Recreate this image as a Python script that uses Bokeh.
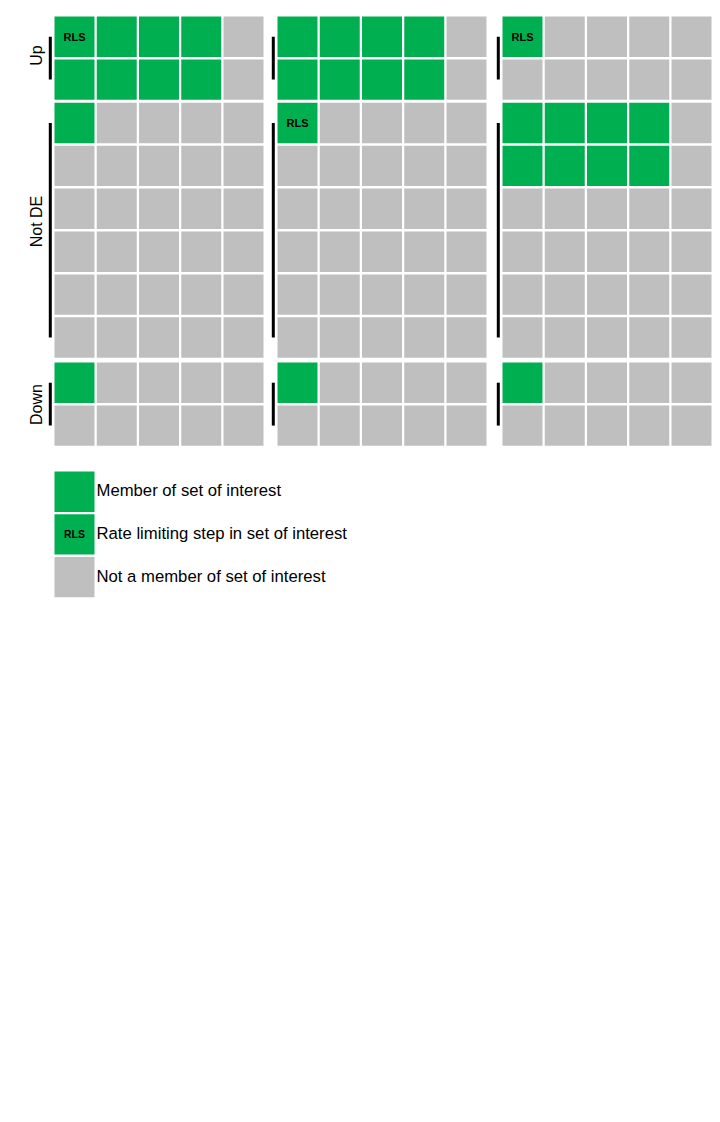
import math
from bokeh.plotting import figure
from bokeh.models import Range1d
from bokeh.core.properties import value
from bokeh.embed import file_html
from bokeh.resources import INLINE

# ---------------- data ----------------
groups = ["Up", "Not DE", "Down"]
group_rows = [2, 6, 2]
n_cols = 5
# cell states: 0 = not a member, 1 = member, 2 = rate limiting step (member)
panel_1 = [
    [2, 1, 1, 1, 0],
    [1, 1, 1, 1, 0],
    [1, 0, 0, 0, 0],
    [0, 0, 0, 0, 0],
    [0, 0, 0, 0, 0],
    [0, 0, 0, 0, 0],
    [0, 0, 0, 0, 0],
    [0, 0, 0, 0, 0],
    [1, 0, 0, 0, 0],
    [0, 0, 0, 0, 0],
]
panel_2 = [
    [1, 1, 1, 1, 0],
    [1, 1, 1, 1, 0],
    [2, 0, 0, 0, 0],
    [0, 0, 0, 0, 0],
    [0, 0, 0, 0, 0],
    [0, 0, 0, 0, 0],
    [0, 0, 0, 0, 0],
    [0, 0, 0, 0, 0],
    [1, 0, 0, 0, 0],
    [0, 0, 0, 0, 0],
]
panel_3 = [
    [2, 0, 0, 0, 0],
    [0, 0, 0, 0, 0],
    [1, 1, 1, 1, 0],
    [1, 1, 1, 1, 0],
    [0, 0, 0, 0, 0],
    [0, 0, 0, 0, 0],
    [0, 0, 0, 0, 0],
    [0, 0, 0, 0, 0],
    [1, 0, 0, 0, 0],
    [0, 0, 0, 0, 0],
]
panels = [panel_1, panel_2, panel_3]
legend_states = [1, 2, 0]
legend_labels = ["Member of set of interest",
                 "Rate limiting step in set of interest",
                 "Not a member of set of interest"]
rls_label = "RLS"

# ---------------- style / layout ----------------
GREEN = "#00B050"
GRAY = "#BFBFBF"
state_color = {0: GRAY, 1: GREEN, 2: GREEN}
W, H = 720, 1122
panel_x0 = [54, 277, 502]
col_pitch = 42.25
cell_w = 40
group_y0 = [16, 102.3, 362]
row_pitch = 42.9
cell_h = 40.4
label_y = [55, 221, 404]
label_x = 36
legend_y0 = 471
legend_pitch = 42.7
FONT = "Liberation Sans"

p = figure(width=W, height=H, output_backend="svg", toolbar_location=None,
           x_range=Range1d(0, W), y_range=Range1d(H, 0), min_border=0,
           background_fill_color="white", border_fill_color="white")
p.axis.visible = False
p.grid.visible = False
p.outline_line_color = None

xs, ys, cols = [], [], []
rx, ry = [], []
bx0, by0, bx1, by1 = [], [], [], []
for pi, panel in enumerate(panels):
    r = 0
    for gi, nrows in enumerate(group_rows):
        for k in range(nrows):
            row = panel[r]
            yc = group_y0[gi] + k * row_pitch + cell_h / 2
            for c, s in enumerate(row):
                xc = panel_x0[pi] + c * col_pitch + cell_w / 2
                xs.append(xc); ys.append(yc); cols.append(state_color[s])
                if s == 2:
                    rx.append(xc); ry.append(yc)
            r += 1
        first = group_y0[gi] + cell_h / 2
        last = group_y0[gi] + (nrows - 1) * row_pitch + cell_h / 2
        bx0.append(panel_x0[pi] - 4.2); bx1.append(panel_x0[pi] - 4.2)
        by0.append(first); by1.append(last)

p.rect(x=xs, y=ys, width=cell_w, height=cell_h, fill_color=cols, line_color=None)
p.segment(x0=bx0, y0=by0, x1=bx1, y1=by1, line_color="black", line_width=3, line_cap="butt")
p.text(x=rx, y=ry, text=[rls_label] * len(rx), text_font=value(FONT), text_font_style="bold",
       text_font_size="11px", text_align="center", text_baseline="middle", text_color="black")

# group labels
p.text(x=[label_x] * len(groups), y=label_y, text=groups, angle=math.pi / 2,
       text_font=value(FONT), text_font_size="16px", text_align="center",
       text_baseline="middle", text_color="black")

# legend
lx = panel_x0[0] + cell_w / 2
lys = [legend_y0 + i * legend_pitch + cell_h / 2 for i in range(len(legend_states))]
p.rect(x=[lx] * 3, y=lys, width=cell_w, height=cell_h,
       fill_color=[state_color[s] for s in legend_states], line_color=None)
ls_rls = [y for y, s in zip(lys, legend_states) if s == 2]
p.text(x=[lx] * len(ls_rls), y=ls_rls, text=[rls_label] * len(ls_rls), text_font=value(FONT),
       text_font_style="bold", text_font_size="10.5px", text_align="center",
       text_baseline="middle", text_color="black")
p.text(x=[panel_x0[0] + cell_w + 2] * 3, y=[y - 0.8 for y in lys], text=legend_labels,
       text_font=value(FONT), text_font_size="16.7px", text_align="left",
       text_baseline="middle", text_color="black")

open("out.html", "w").write(file_html(p, INLINE))
